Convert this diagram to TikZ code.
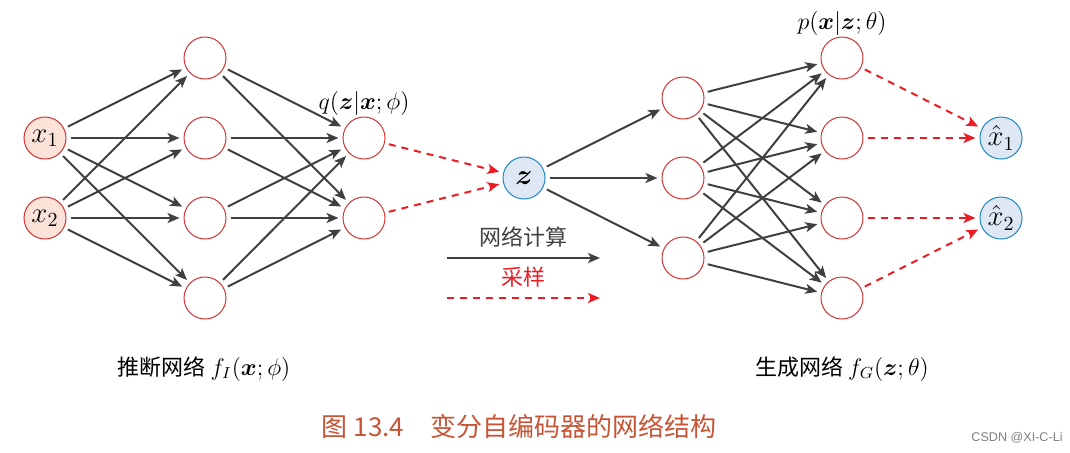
\documentclass[tikz,border=0pt]{standalone}
\usepackage{amsmath}
\usepackage{amssymb}
\usepackage{fontspec}
\newfontfamily\cjk{Noto Sans CJK SC}
\newfontfamily\marca{Liberation Sans}
\usetikzlibrary{arrows.meta, positioning}
\definecolor{Rojo}{RGB}{214, 52, 52}
\definecolor{RojoVivo}{RGB}{236, 28, 36}
\definecolor{RosaClaro}{RGB}{251, 227, 218}
\definecolor{AzulBorde}{RGB}{30, 136, 198}
\definecolor{AzulClaro}{RGB}{222, 232, 244}
\definecolor{Gris}{RGB}{64, 64, 64}
\definecolor{Titulo}{RGB}{200, 84, 54}

\begin{document}
\begin{tikzpicture}[x=0.5pt, y=-0.5pt,
        neurona/.style={circle, draw=Rojo, line width=0.5pt, fill=white, minimum size=21pt, inner sep=0pt, font=\fontsize{14}{16}\selectfont},
        entrada/.style={neurona, fill=RosaClaro},
        latente/.style={neurona, draw=AzulBorde, fill=AzulClaro},
        connect/.style={draw=Gris, line width=1pt, -{Stealth[length=6pt, width=5pt, inset=1.5pt]}, shorten >=2pt, shorten <=2pt},
        muestreo/.style={draw=RojoVivo, line width=1pt, dash pattern=on 3.5pt off 3pt, -{Stealth[length=6pt, width=5pt, inset=1.5pt]}, shorten >=2pt, shorten <=2pt},
        texto/.style={font=\cjk\fontsize{11}{13}\selectfont}
    ]
        \useasboundingbox (0,0) rectangle (1070,452);

        % Red de inferencia
        \node[entrada] (x1) at (45,138) {$x_1$};
        \node[entrada] (x2) at (45,218) {$x_2$};
        \node[neurona] (h1) at (205,58) {};
        \node[neurona] (h2) at (205,138) {};
        \node[neurona] (h3) at (205,218) {};
        \node[neurona] (h4) at (205,298) {};
        \node[neurona] (m1) at (364,138) {};
        \node[neurona] (m2) at (364,218) {};
        \node[font=\fontsize{12}{14}\selectfont] (q) at (364,103) {$q(\boldsymbol{z}|\boldsymbol{x};\phi)$};

        % Variable latente
        \node[latente] (z) at (524,178) {$\boldsymbol{z}$};

        % Red generativa
        \node[neurona] (d1) at (683,98) {};
        \node[neurona] (d2) at (683,178) {};
        \node[neurona] (d3) at (683,258) {};
        \node[neurona] (o1) at (842,58) {};
        \node[neurona] (o2) at (842,138) {};
        \node[neurona] (o3) at (842,218) {};
        \node[neurona] (o4) at (842,298) {};
        \node[font=\fontsize{12}{14}\selectfont] (p) at (842,23) {$p(\boldsymbol{x}|\boldsymbol{z};\theta)$};
        \node[latente] (y1) at (1001,138) {$\hat{x}_1$};
        \node[latente] (y2) at (1001,218) {$\hat{x}_2$};

        % Conexiones de la red
        \foreach \a in {x1,x2}
            \foreach \b in {h1,h2,h3,h4}
                \draw[connect] (\a) -- (\b);
        \foreach \a in {h1,h2,h3,h4}
            \foreach \b in {m1,m2}
                \draw[connect] (\a) -- (\b);
        \foreach \b in {d1,d2,d3}
            \draw[connect] (z) -- (\b);
        \foreach \a in {d1,d2,d3}
            \foreach \b in {o1,o2,o3,o4}
                \draw[connect] (\a) -- (\b);

        % Muestreo (discontinuas)
        \draw[muestreo] (m1) -- (z);
        \draw[muestreo] (m2) -- (z);
        \draw[muestreo] (o1) -- (y1);
        \draw[muestreo] (o2) -- (y1);
        \draw[muestreo] (o3) -- (y2);
        \draw[muestreo] (o4) -- (y2);

        % Leyenda
        \node[texto, text=Gris] (lc) at (523,237) {网络计算};
        \coordinate (lc1) at (447,258);
        \coordinate (lc2) at (600,258);
        \draw[connect, shorten >=0pt, shorten <=0pt] (lc1) -- (lc2);
        \node[texto, text=RojoVivo] (lm) at (523,277) {采样};
        \coordinate (lm1) at (447,298);
        \coordinate (lm2) at (600,298);
        \draw[muestreo, shorten >=0pt, shorten <=0pt] (lm1) -- (lm2);

        % Nombres de las redes
        \node[texto] (ninf) at (204,369) {推断网络\ \fontsize{12}{14}\selectfont$f_I(\boldsymbol{x};\phi)$};
        \node[texto] (ngen) at (842,369) {生成网络\ \fontsize{12}{14}\selectfont$f_G(\boldsymbol{z};\theta)$};

        % Pie de figura
        \node[font=\cjk\fontsize{13}{15}\selectfont, text=Titulo] (pie) at (519,426) {图 13.4\quad 变分自编码器的网络结构};
        \node[font=\marca\fontsize{6.3}{8}\selectfont, text=gray] (wm) at (1017,438) {CSDN @XI-C-Li};
    \end{tikzpicture}
\end{document}
